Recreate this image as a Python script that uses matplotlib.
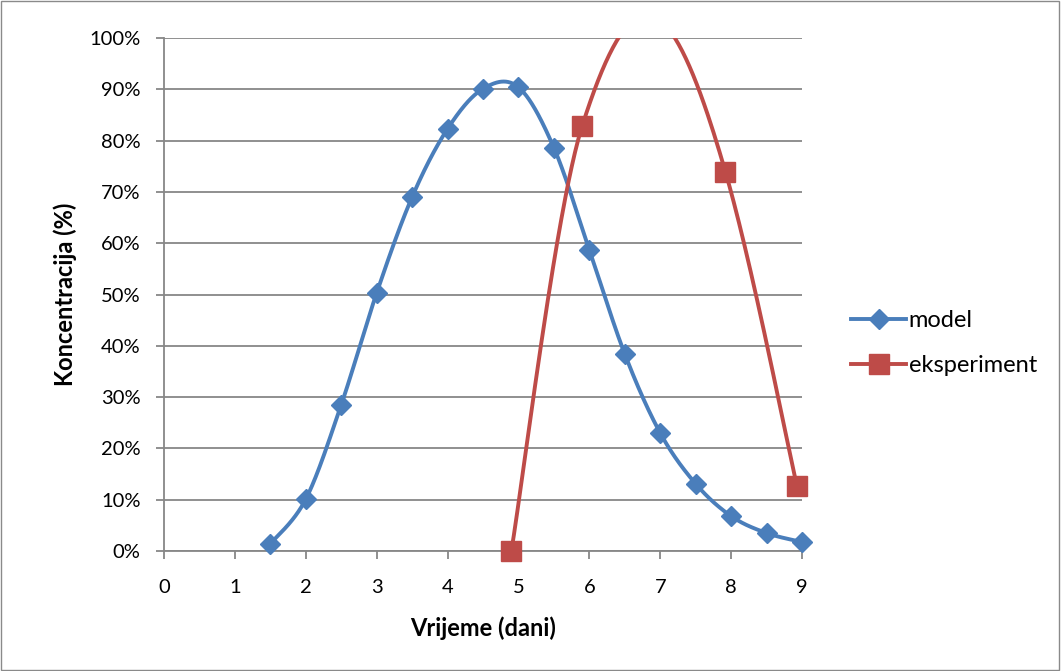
import numpy as np
import matplotlib
matplotlib.use("Agg")
import matplotlib.pyplot as plt
from matplotlib.ticker import PercentFormatter, MultipleLocator
from matplotlib.lines import Line2D
from matplotlib.patches import Rectangle

plt.rcParams['font.family'] = ['Lato', 'DejaVu Sans']

# data
model_x = [1.5, 2, 2.5, 3, 3.5, 4, 4.5, 5, 5.5, 6, 6.5, 7, 7.5, 8, 8.5, 9]
model_y = [1.4, 10.1, 28.5, 50.3, 69.0, 82.3, 90.1, 90.4, 78.6, 58.7, 38.4, 23.0, 13.1, 6.8, 3.5, 1.75]
exp_x = [4.9, 5.9, 7.92, 8.93]
exp_y = [0.0, 82.9, 73.9, 12.6]

blue = '#4A7EBB'
red = '#BE4B48'
grid_col = '#878787'


def smooth(x, y, tension=1.0, bias=0.0, n=80):
    # smoothed line: cubic Bezier through the points,
    # tangent = weighted mix of the neighbouring secants (bias < 0 leans on the outgoing one)
    x = np.asarray(x, float)
    y = np.asarray(y, float)
    h = np.diff(x)
    s = np.diff(y) / h
    m = np.zeros(len(x))
    wi = (1 + bias) * h[1:]
    wo = (1 - bias) * h[:-1]
    m[1:-1] = (wi * s[:-1] + wo * s[1:]) / (wi + wo)
    t = np.linspace(0, 1, n)[1:]
    px, py = [x[0]], [y[0]]
    for i in range(len(x) - 1):
        p1 = np.array([x[i], y[i]])
        p2 = np.array([x[i + 1], y[i + 1]])
        if i == 0:
            c1 = p1 + (p2 - p1) / 6
        else:
            c1 = p1 + tension * h[i] / 3 * np.array([1, m[i]])
        if i == len(x) - 2:
            c2 = p2 - (p2 - p1) / 6
        else:
            c2 = p2 - tension * h[i] / 3 * np.array([1, m[i + 1]])
        for k in range(2):
            seg = ((1 - t) ** 3) * p1[k] + 3 * (1 - t) ** 2 * t * c1[k] + 3 * (1 - t) * t ** 2 * c2[k] + t ** 3 * p2[k]
            (px if k == 0 else py).extend(seg)
    return np.array(px), np.array(py)


fig = plt.figure(figsize=(10.61, 6.71), dpi=100)
ax = fig.add_axes([164 / 1061, 1 - 551 / 671, (802 - 164) / 1061, (551 - 38) / 671])

lw = 2.8
sx, sy = smooth(model_x, model_y)
ax.plot(sx, sy, color=blue, lw=lw, solid_capstyle='round', zorder=3)
ax.plot(model_x, model_y, ls='none', marker='D', ms=10.5, color=blue, mec=blue, clip_on=False, zorder=4)

sx, sy = smooth(exp_x, exp_y, tension=1.12, bias=-0.25)
ax.plot(sx, sy, color=red, lw=lw, solid_capstyle='round', zorder=3)
ax.plot(exp_x, exp_y, ls='none', marker='s', ms=14, color=red, mec=red, clip_on=False, zorder=4)

ax.set_xlim(0, 9)
ax.set_ylim(0, 100)
ax.xaxis.set_major_locator(MultipleLocator(1))
ax.yaxis.set_major_locator(MultipleLocator(10))
ax.yaxis.set_major_formatter(PercentFormatter(decimals=0))
ax.grid(axis='y', color=grid_col, lw=1.3)
ax.set_axisbelow(True)
for sp in ['top', 'right']:
    ax.spines[sp].set_visible(False)
for sp in ['left', 'bottom']:
    ax.spines[sp].set_color(grid_col)
    ax.spines[sp].set_linewidth(1.3)
ax.tick_params(colors=grid_col, labelcolor='black', labelsize=14.5, length=6, width=1.3, direction='out')
ax.tick_params(axis='y', pad=11)
ax.tick_params(axis='x', pad=14)

ax.set_xlabel('Vrijeme (dani)', fontsize=17, fontweight='bold', labelpad=15)
ax.set_ylabel('Koncentracija (%)', fontsize=17, fontweight='bold', labelpad=9)

handles = [Line2D([], [], color=blue, lw=lw, marker='D', ms=10.5),
           Line2D([], [], color=red, lw=lw, marker='s', ms=14)]
fig.legend(handles, ['model', 'eksperiment'], loc='center left', bbox_to_anchor=(839 / 1061, 1 - 343 / 671),
           frameon=False, fontsize=17, handlelength=2.35, handletextpad=0.1, labelspacing=1.0, borderpad=0)

fig.add_artist(Rectangle((0.001, 0.001), 0.997, 0.997, transform=fig.transFigure, fill=False,
                         edgecolor='#8a8a8a', lw=1))

fig.savefig('out.png', dpi=100)
